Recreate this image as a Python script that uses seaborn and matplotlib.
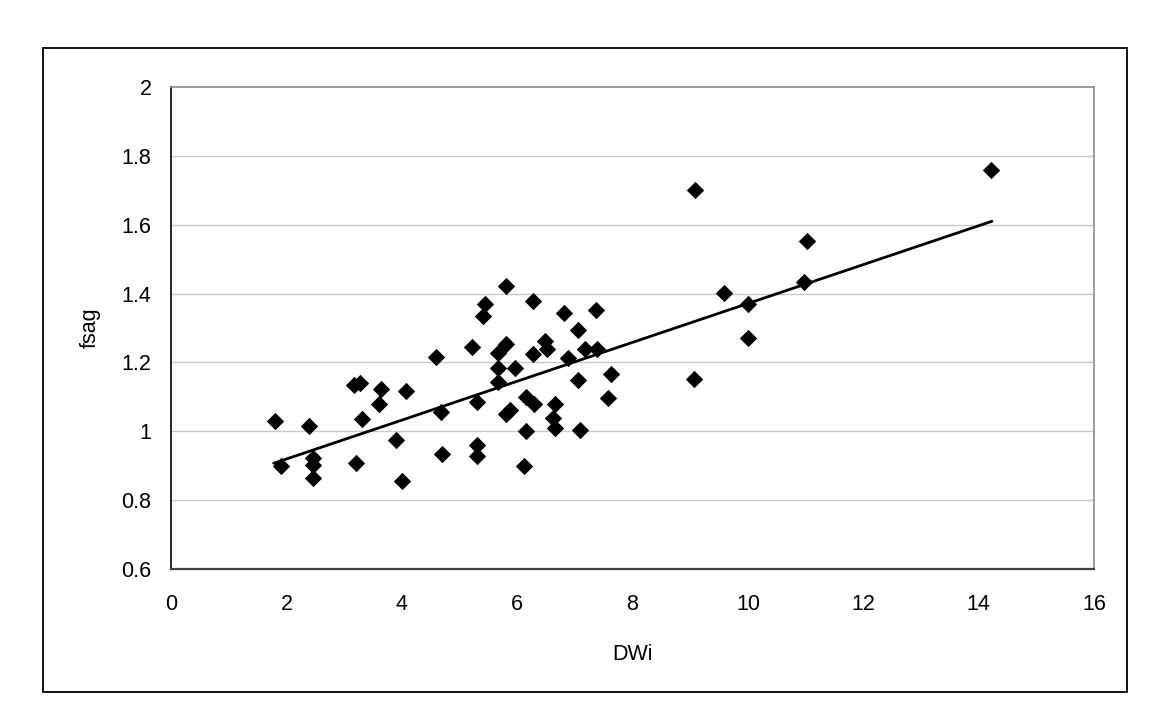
import numpy as np
import pandas as pd
import matplotlib
matplotlib.use('Agg')
import matplotlib.pyplot as plt
from matplotlib.patches import Rectangle
import seaborn as sns

# datos
dwi = [1.80, 1.90, 2.39, 2.46, 2.46, 2.46, 3.18, 3.20, 3.28, 3.31,
       3.61, 3.64, 3.90, 4.01, 4.08, 4.60, 4.68, 4.69, 5.21, 5.31,
       5.31, 5.31, 5.41, 5.44, 5.66, 5.66, 5.67, 5.81, 5.81, 5.81,
       5.88, 5.97, 6.12, 6.15, 6.15, 6.28, 6.28, 6.29, 6.48, 6.51,
       6.62, 6.66, 6.66, 6.82, 6.88, 7.05, 7.05, 7.09, 7.18, 7.37,
       7.38, 7.58, 7.63, 9.06, 9.09, 9.59, 10.0, 10.0, 10.98, 11.02,
       14.21]
fsag = [1.031, 0.900, 1.014, 0.923, 0.902, 0.865, 1.134, 0.909, 1.139, 1.036,
        1.079, 1.122, 0.975, 0.857, 1.118, 1.217, 1.057, 0.935, 1.246, 1.084,
        0.961, 0.929, 1.336, 1.371, 1.184, 1.142, 1.226, 1.423, 1.254, 1.051,
        1.061, 1.184, 0.900, 1.101, 1.000, 1.378, 1.224, 1.078, 1.262, 1.239,
        1.039, 1.078, 1.009, 1.343, 1.212, 1.295, 1.150, 1.004, 1.238, 1.351,
        1.239, 1.098, 1.167, 1.152, 1.700, 1.401, 1.371, 1.270, 1.435, 1.552,
        1.760]

# linea de tendencia (extremos)
tend_x = [1.78, 14.23]
tend_y = [0.907, 1.610]

xticks = [0, 2, 4, 6, 8, 10, 12, 14, 16]
yticks = [0.6, 0.8, 1.0, 1.2, 1.4, 1.6, 1.8, 2.0]
ytick_labels = ['0.6', '0.8', '1', '1.2', '1.4', '1.6', '1.8', '2']

df = pd.DataFrame({'DWi': dwi, 'fsag': fsag})
tend = pd.DataFrame({'DWi': tend_x, 'fsag': tend_y})

sns.set_style('white')
plt.rcParams['font.family'] = ['Liberation Sans', 'DejaVu Sans']
plt.rcParams['text.color'] = 'black'
plt.rcParams['axes.labelcolor'] = 'black'
plt.rcParams['xtick.color'] = 'black'
plt.rcParams['ytick.color'] = 'black'

fig = plt.figure(figsize=(11.62, 7.25), dpi=100)
ax = fig.add_axes([0.1472, 0.2152, 0.7943, 0.6648])

# grilla gris clara
for yv in yticks[1:-1]:
    ax.axhline(yv, color='#c8c8c8', lw=1.0, zorder=0)

sns.lineplot(data=tend, x='DWi', y='fsag', ax=ax, color='black',
             lw=2.0, zorder=2)
sns.scatterplot(data=df, x='DWi', y='fsag', ax=ax, marker='D',
                color='black', s=78, linewidth=0, alpha=1, zorder=3)

ax.set_xlim(0, 16)
ax.set_ylim(0.6, 2.0)
ax.set_xticks(xticks)
ax.set_xticklabels([str(t) for t in xticks])
ax.set_yticks(yticks)
ax.set_yticklabels(ytick_labels)

for lado in ['top', 'right']:
    ax.spines[lado].set_color('#8a8a8a')
    ax.spines[lado].set_linewidth(1.2)
ax.spines['left'].set_color('black')
ax.spines['bottom'].set_color('#404040')
ax.spines['left'].set_linewidth(1.2)
ax.spines['bottom'].set_linewidth(1.6)

ax.tick_params(axis='both', which='major', direction='out', length=5,
               width=1, color='black', labelcolor='black', labelsize=15.5)
ax.tick_params(axis='x', pad=13)
ax.tick_params(axis='y', pad=9)

ax.set_xlabel('DWi', fontsize=15.5, color='black')
ax.set_ylabel('fsag', fontsize=15.5, color='black')
ax.xaxis.label.set_va('center')
ax.yaxis.label.set_va('center')
ax.xaxis.set_label_coords(0.5, -0.178)
ax.yaxis.set_label_coords(-0.088, 0.5)

# marco exterior
fig.patches.append(Rectangle((0.037, 0.0455), 0.9329, 0.888,
                             transform=fig.transFigure, fill=False,
                             edgecolor='black', lw=1.3))

fig.savefig('out.png', dpi=100, facecolor='white')
